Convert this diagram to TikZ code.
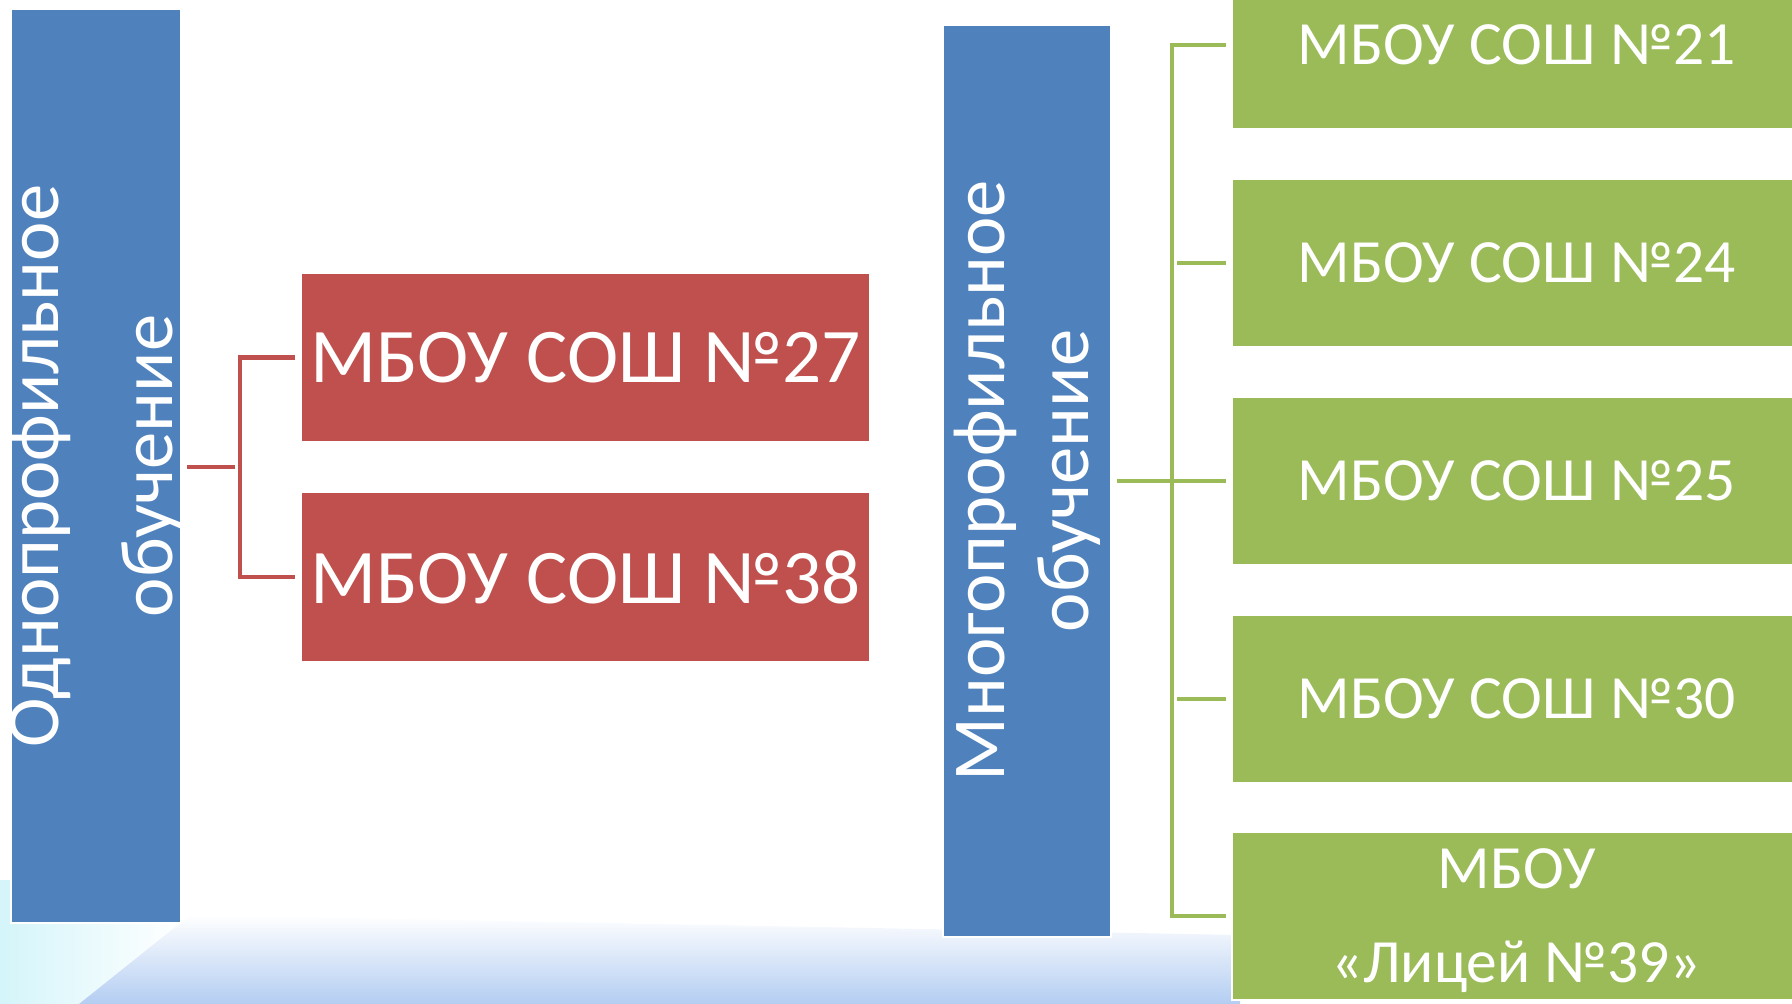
\documentclass[tikz,border=0pt]{standalone}
\usepackage{fontspec}
\setmainfont{Carlito}
\usepackage{tikz}
\definecolor{smartBlue}{HTML}{4F81BD}
\definecolor{smartRed}{HTML}{C0504D}
\definecolor{smartGreen}{HTML}{9BBB59}
\definecolor{washBlue}{HTML}{B3CDF2}
\definecolor{washCyan}{HTML}{D4F5FA}

\begin{document}
\begin{tikzpicture}[x=0.02cm, y=-0.02cm,
      headbox/.style={rectangle, fill=smartBlue, draw=white, line width=1pt, inner sep=0pt},
      headtext/.style={rotate=90, align=center, text=white, inner sep=0pt},
      redbox/.style={rectangle, fill=smartRed, draw=white, line width=1pt,
         text=white, minimum width=11.38cm, minimum height=3.38cm,
         font=\fontsize{44}{50}\selectfont, inner sep=0pt},
      greenbox/.style={rectangle, fill=smartGreen, draw=white, line width=1pt,
         text=white, minimum width=11.38cm, minimum height=3.36cm, align=center,
         font=\fontsize{35}{53.5}\selectfont, inner sep=0pt},
      redline/.style={draw=smartRed, line width=2.3pt, shorten <=3pt, shorten >=3pt},
      greenline/.style={draw=smartGreen, line width=2.3pt, shorten <=3pt, shorten >=3pt}]
         \useasboundingbox (0,0) rectangle (1792,1004);
         \clip (0,0) rectangle (1792,1004);

         \shade [left color=washCyan, right color=white] (0,880) -- (0,1004) -- (79,1004) -- (182,920) -- (182,880) -- cycle;
         \shade [top color=white, bottom color=washBlue] (79,1004) -- (190,915) -- (1240,935) -- (1240,1004) -- cycle;

         \node (odno) at (96,466) [headbox, minimum width=3.4cm, minimum height=18.28cm,
            label={[headtext, font=\fontsize{42.5}{65}\selectfont]center:Однопрофильное\\обучение}] {};
         \node (r27) at (585.5,357.5) [redbox] {МБОУ СОШ №27};
         \node (r38) at (585.5,577) [redbox] {МБОУ СОШ №38};

         \node (mnogo) at (1027,481) [headbox, minimum width=3.36cm, minimum height=18.24cm,
            label={[headtext, font=\fontsize{42.5}{48}\selectfont]center:Многопрофильное\\обучение}] {};
         \node (g21) at (1516.5,45) [greenbox] {МБОУ СОШ №21};
         \node (g24) at (1516.5,263) [greenbox] {МБОУ СОШ №24};
         \node (g25) at (1516.5,481) [greenbox] {МБОУ СОШ №25};
         \node (g30) at (1516.5,699) [greenbox] {МБОУ СОШ №30};
         \node (g39) at (1516.5,916) [greenbox, text depth=0pt] {МБОУ\\«Лицей №39»};

         \coordinate (rj) at (240,467);
         \coordinate (gj) at (1172,481);

         \draw [redline] (odno.east |- rj) -- (rj);
         \draw [redline] (r27.west) -- (rj |- r27) -- (rj |- r38) -- (r38.west);

         \draw [greenline] (mnogo.east |- g25) -- (g25.west);
         \draw [greenline] (g21.west) -- (gj |- g21) -- (gj |- g39) -- (g39.west);
         \draw [greenline] (gj |- g24) -- (g24.west);
         \draw [greenline] (gj |- g30) -- (g30.west);
      \end{tikzpicture}
\end{document}
